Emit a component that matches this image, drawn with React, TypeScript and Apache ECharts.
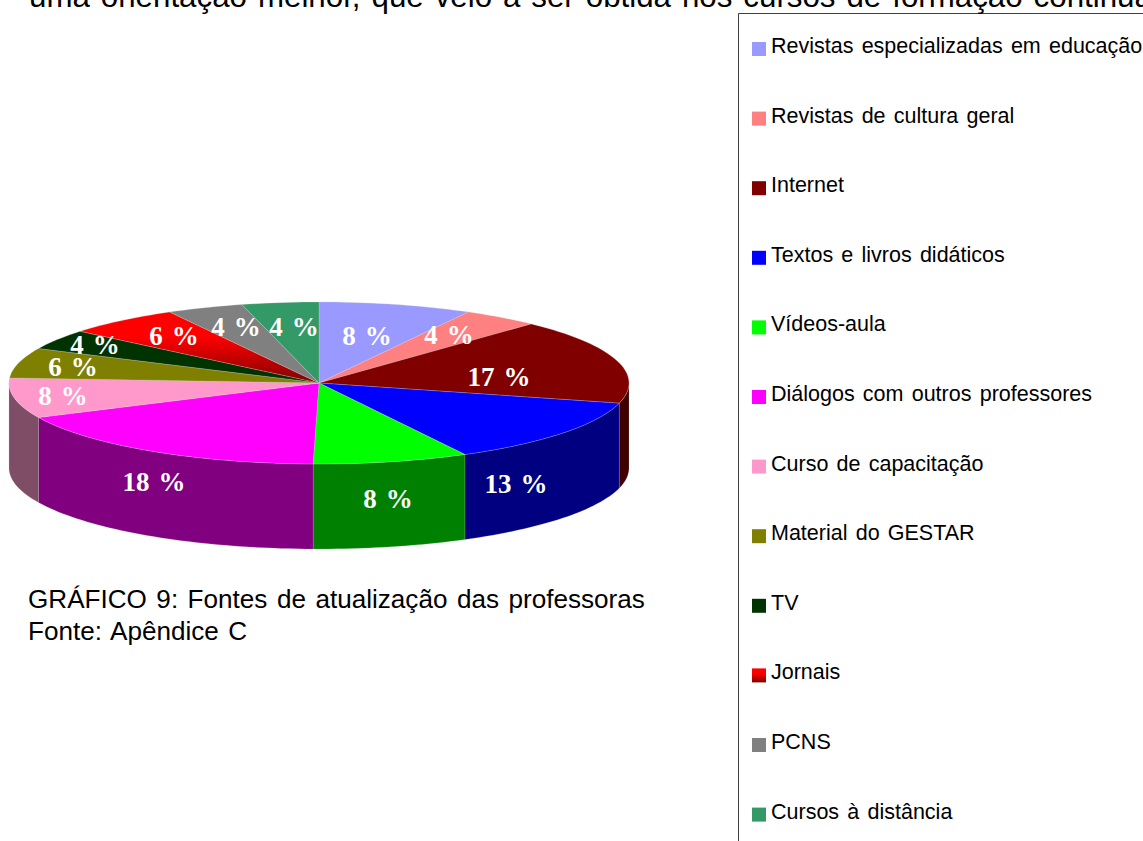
import React, { useEffect, useRef } from "react";
import * as echarts from "echarts";

const categories = [
  "Revistas especializadas em educação",
  "Revistas de cultura geral",
  "Internet",
  "Textos e livros didáticos",
  "Vídeos-aula",
  "Diálogos com outros professores",
  "Curso de capacitação",
  "Material do GESTAR",
  "TV",
  "Jornais",
  "PCNS",
  "Cursos à distância",
];
const percentValues = [8, 4, 17, 13.2, 8.1, 17.7, 8, 6, 4, 6, 4, 4];

const topColors: any[] = [
  "#9999FF", "#FF8080", "#800000", "#0000FF", "#00FF00", "#FF00FF", "#FF99CC", "#808000", "#003300",
  { type: "linear", x: 0, y: 0, x2: 0, y2: 1, colorStops: [{ offset: 0, color: "#FF0000" }, { offset: 0.35, color: "#FF0000" }, { offset: 1, color: "#800000" }] },
  "#808080", "#339966",
];
const wallColors = ["#4C4C80", "#804040", "#400000", "#000080", "#008000", "#800080", "#804D66", "#404000", "#001A00", "#800000", "#404040", "#1A4D33"];
const labelOffsets = [
  [48, -47], [130, -48], [180, -6], [197, 101], [69, 116], [-165, 99],
  [-256, 13], [-246, -16], [-224, -38], [-145, -47], [-83, -56], [-25, -56],
];

const CX = 319, CY = 383, RX = 310, RY = 81, DEPTH = 85;
const total = percentValues.reduce((a, b) => a + b, 0);
const rim = (deg: number, drop = 0) => {
  const t = (deg * Math.PI) / 180;
  return [CX + RX * Math.sin(t), CY - RY * Math.cos(t) + drop];
};
const arc = (a: number, b: number, drop = 0) => {
  const n = Math.max(2, Math.ceil((b - a) / 1.5));
  const pts: number[][] = [];
  for (let i = 0; i <= n; i++) pts.push(rim(a + ((b - a) * i) / n, drop));
  return pts;
};

function renderSlice(index: number) {
  return (_params: any, api: any) => {
    const value = api.value(0);
    const before = percentValues.slice(0, index).reduce((a, b) => a + b, 0);
    const a = (before / total) * 360;
    const b = a + (value / total) * 360;
    const children: any[] = [];
    const wa = Math.max(a, 90), wb = Math.min(b, 270);
    if (wb > wa) {
      children.push({
        type: "polygon",
        z2: 1,
        shape: { points: [...arc(wa, wb), ...arc(wa, wb, DEPTH).reverse()] },
        style: { fill: wallColors[index], stroke: "rgba(190,190,190,0.4)", lineWidth: 0.5 },
      });
    }
    children.push({
      type: "polygon",
      z2: 2,
      shape: { points: [[CX, CY], ...arc(a, b)] },
      style: { fill: topColors[index], stroke: "rgba(215,215,215,0.5)", lineWidth: 0.5 },
    });
    children.push({
      type: "text",
      z2: 10,
      x: CX + labelOffsets[index][0],
      y: CY + labelOffsets[index][1],
      style: {
        text: `${Math.round(value)} %`,
        fill: "#FFFFFF",
        font: 'bold 27px "Liberation Serif"',
        align: "center",
        verticalAlign: "middle",
      },
    });
    return { type: "group", children };
  };
}

export default function App() {
  const ref = useRef<HTMLDivElement>(null);
  useEffect(() => {
    const chart = echarts.init(ref.current!, null, { renderer: "svg" });
    chart.setOption({
      animation: false,
      backgroundColor: "#FFFFFF",
      legend: {
        orient: "vertical",
        left: 752,
        top: 35,
        padding: 0,
        itemWidth: 14,
        itemHeight: 20,
        itemGap: 47.6,
        icon: "path://M0 0L0 0M0 6H14V20H0Z",
        selectedMode: false,
        data: categories,
        textStyle: { fontFamily: "Liberation Sans", fontSize: 21.5, color: "#000000" },
      },
      series: categories.map((name, i) => ({
        type: "custom",
        name,
        coordinateSystem: "none",
        itemStyle: { color: topColors[i] },
        renderItem: renderSlice(i),
        data: [[percentValues[i]]],
        silent: true,
      })),
      graphic: [
        { type: "polyline", shape: { points: [[738.5, 841], [738.5, 13.5], [1143, 13.5]] }, style: { stroke: "#404040", fill: "none", lineWidth: 1 } },
        { type: "text", x: 29, y: -19.5, style: { text: "uma orientação melhor, que veio a ser obtida nos cursos de formação continuada", font: '31.3px "Liberation Sans"', fill: "#000000" } },
        { type: "text", x: 28, y: 599, style: { text: "GRÁFICO 9: Fontes de atualização das professoras", font: '26.1px "Liberation Sans"', fill: "#000000", verticalAlign: "middle" } },
        { type: "text", x: 28, y: 631, style: { text: "Fonte: Apêndice C", font: '26.1px "Liberation Sans"', fill: "#000000", verticalAlign: "middle" } },
      ],
    });
    return () => chart.dispose();
  }, []);
  return <div ref={ref} style={{ position: "fixed", left: 0, top: 0, width: 1143, height: 841, overflow: "hidden", wordSpacing: "0.14em" }} />;
}
